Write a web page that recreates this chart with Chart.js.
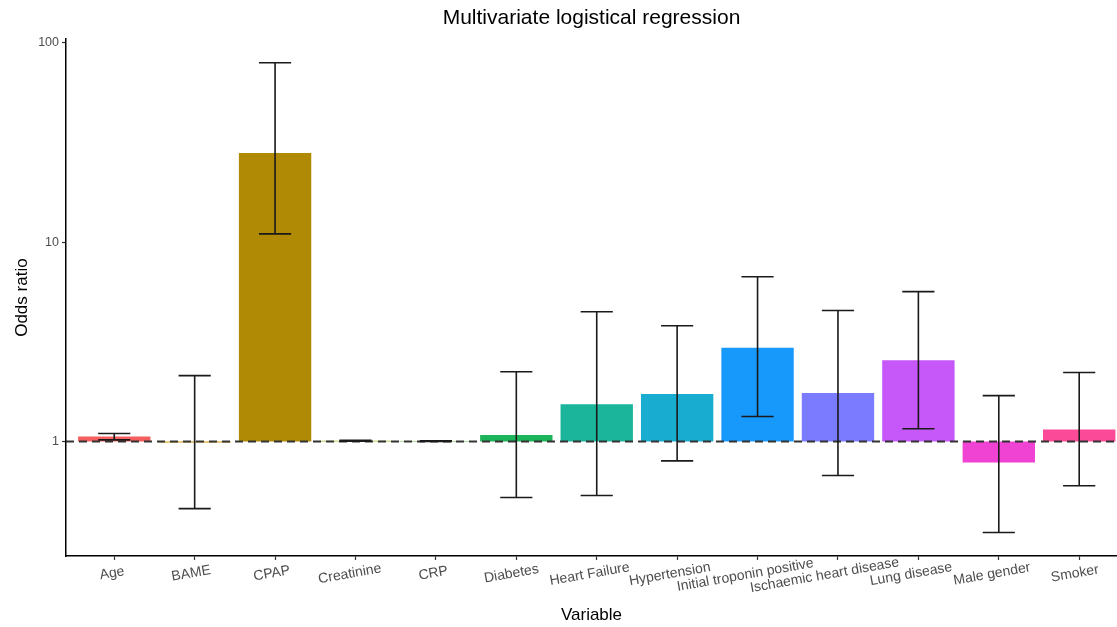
<!DOCTYPE html>
<html>
<head>
<meta charset="utf-8">
<script src="https://cdn.jsdelivr.net/npm/chart.js@4"></script>
<style>
  html, body { margin: 0; padding: 0; background: #fff; overflow: hidden; }
  #wrap { width: 1117px; height: 627px; position: relative; }
</style>
</head>
<body>
<div id="wrap"><canvas id="orChart"></canvas></div>
<script>
const variables = ['Age', 'BAME', 'CPAP', 'Creatinine', 'CRP', 'Diabetes', 'Heart Failure',
  'Hypertension', 'Initial troponin positive', 'Ischaemic heart disease', 'Lung disease',
  'Male gender', 'Smoker'];
const oddsRatio = [1.06, 0.99, 28.0, 1.01, 1.006, 1.08, 1.54, 1.73, 2.95, 1.75, 2.56, 0.785, 1.15];
const ciLower = [1.02, 0.461, 11.0, 1.005, 1.002, 0.524, 0.536, 0.80, 1.335, 0.676, 1.16, 0.35, 0.60];
const ciUpper = [1.097, 2.14, 79.4, 1.015, 1.01, 2.24, 4.48, 3.81, 6.71, 4.54, 5.65, 1.70, 2.22];
const yTicks = [1, 10, 100];
const barColors = ['#F55E5E', '#D39200', '#B08A04', '#A3BE2C', '#5CC43A', '#1CB45A', '#1AB59B',
  '#18ACD0', '#1699FB', '#7A7BFF', '#C657F8', '#F043D3', '#FB4B98'];

const FONT = '"Liberation Sans", Arial, sans-serif';

const refLine = {
  id: 'refLine',
  afterDatasetsDraw(chart) {
    const { ctx, chartArea, scales } = chart;
    const y = scales.y.getPixelForValue(1);
    ctx.save();
    ctx.strokeStyle = '#333';
    ctx.lineWidth = 2;
    ctx.setLineDash([8, 5]);
    ctx.beginPath();
    ctx.moveTo(chartArea.left, y);
    ctx.lineTo(chartArea.right, y);
    ctx.stroke();
    ctx.restore();

    // error bars
    const xs = scales.x;
    const half = (xs.getPixelForValue(1) - xs.getPixelForValue(0)) * 0.2;
    ctx.save();
    ctx.strokeStyle = '#1a1a1a';
    ctx.lineWidth = 1.6;
    variables.forEach((v, i) => {
      const x = xs.getPixelForValue(i);
      const lo = scales.y.getPixelForValue(ciLower[i]);
      const hi = scales.y.getPixelForValue(ciUpper[i]);
      ctx.beginPath();
      ctx.moveTo(x, lo); ctx.lineTo(x, hi);
      ctx.moveTo(x - half, lo); ctx.lineTo(x + half, lo);
      ctx.moveTo(x - half, hi); ctx.lineTo(x + half, hi);
      ctx.stroke();
    });
    ctx.restore();
  },
  afterDraw(chart) {
    // slanted category labels, centred near the tick like ggplot
    const { ctx, scales } = chart;
    const xs = scales.x;
    const yBase = xs.top + 17;
    ctx.save();
    ctx.font = '14px ' + FONT;
    ctx.fillStyle = '#4D4D4D';
    ctx.textAlign = 'center';
    ctx.textBaseline = 'middle';
    variables.forEach((v, i) => {
      const x = xs.getPixelForValue(i);
      const w = ctx.measureText(v).width;
      ctx.save();
      ctx.translate(x, yBase);
      ctx.rotate(-10 * Math.PI / 180);
      ctx.fillText(v, -0.09 * w, 0);
      ctx.restore();
    });
    ctx.restore();
  }
};

new Chart(document.getElementById('orChart'), {
  type: 'bar',
  data: {
    datasets: [{
      data: variables.map((v, i) => ({ x: i, y: [1, oddsRatio[i]] })),
      backgroundColor: barColors,
      borderWidth: 0,
      barPercentage: 0.9,
      categoryPercentage: 1
    }]
  },
  options: {
    responsive: true,
    maintainAspectRatio: false,
    animation: false,
    layout: { padding: 0 },
    plugins: {
      legend: { display: false },
      tooltip: { enabled: false },
      title: {
        display: true,
        fullSize: false,
        text: 'Multivariate logistical regression',
        color: '#000',
        font: { family: FONT, size: 21, weight: 'normal' },
        padding: { top: 6, bottom: 8 }
      }
    },
    scales: {
      x: {
        type: 'linear',
        offset: false,
        min: -0.6,
        max: 12.47,
        afterBuildTicks: (axis) => { axis.ticks = variables.map((v, i) => ({ value: i })); },
        afterFit: (axis) => { axis.height = 71; },
        ticks: { display: false },
        grid: { offset: false, drawOnChartArea: false, drawTicks: true, tickLength: 4, tickColor: '#333', tickWidth: 1.2 },
        border: { display: true, color: '#000', width: 1.5 },
        title: {
          display: true,
          text: 'Variable',
          color: '#000',
          font: { family: FONT, size: 17 },
          padding: { top: 0, bottom: 1 }
        }
      },
      y: {
        type: 'logarithmic',
        min: 0.2667,
        max: 104.2,
        afterBuildTicks: (axis) => { axis.ticks = yTicks.map((v) => ({ value: v })); },
        afterFit: (axis) => { axis.width = 66; },
        ticks: {
          color: '#4D4D4D',
          font: { family: FONT, size: 12.5 },
          padding: 3,
          callback: (v) => String(v)
        },
        grid: { drawOnChartArea: false, drawTicks: true, tickLength: 4, tickColor: '#333', tickWidth: 1.2 },
        border: { display: true, color: '#000', width: 1.5 },
        title: {
          display: true,
          text: 'Odds ratio',
          color: '#000',
          font: { family: FONT, size: 17 },
          padding: { top: 12, bottom: 0 }
        }
      }
    }
  },
  plugins: [refLine]
});
</script>
</body>
</html>
